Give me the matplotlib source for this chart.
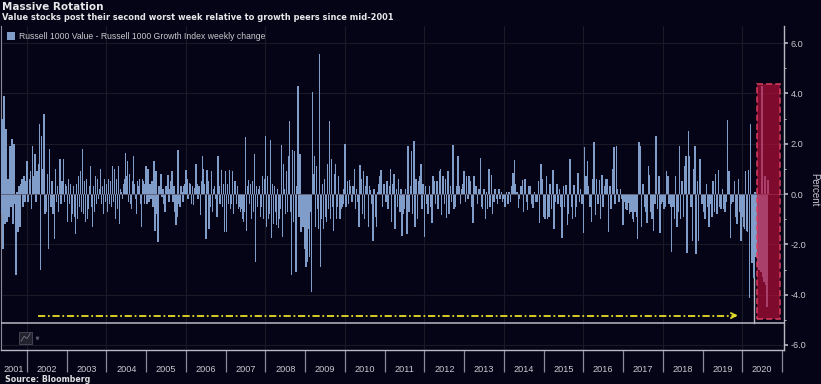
import matplotlib
matplotlib.use('Agg')
import matplotlib.pyplot as plt
from matplotlib.patches import Rectangle
import numpy as np

# weekly change
y2001 = [1.7,-0.8,3.0,-2.2,3.9,-1.2,2.6,-1.1,0.6,-0.9,1.9,-0.5,2.2,-1.2,2.0,-0.4,-3.2,0.1,-1.5,0.3,-1.3,0.4,0.6,-0.5,0.7,-0.3,0.5]
y2002 = [1.3,-0.3,0.6,0.9,-0.6,1.9,0.7,1.6,-0.3,0.9,1.2,2.8,-3.0,2.3,1.0,3.2,-0.8,-0.7,0.8,-2.2,1.8,-0.5,0.5,-0.8,-1.8,1.0,-0.3,0.3,-0.7,1.4,-0.4,0.5,1.4,-0.3,0.4]
y2003 = [0.3,-1.1,0.6,-0.4,0.4,-1.1,-0.8,0.3,-0.9,-1.6,0.4,-1.0,0.7,-0.5,0.9,-0.7,1.8,-0.8,0.5,-1.1,0.6,-1.0,-0.6,0.3,1.1,-0.5,-1.3,0.3,-0.7,0.7,-0.4,0.6,-0.2,0.2,1.0,-0.4,0.3,-0.8,0.6,-0.3]
y2004 = [0.4,-0.7,0.6,-0.4,0.5,-0.5,1.1,-0.3,1.0,-1.0,0.6,-0.6,1.1,-1.2,0.2,0.1,-0.2,0.4,0.6,1.65,0.7,1.3,-0.3,0.8,-0.4,-0.6,0.5,1.5,0.4,-0.2,-0.8,0.5,0.3,0.6,-0.4,-1.3,0.6,0.5,-0.4,0.4]
y2005 = [1.1,-0.4,1.0,-0.3,0.4,-0.2,0.5,-0.5,1.3,-1.45,0.9,-0.8,-1.9,0.3,0.2,0.8,-0.1,0.2,-0.4,-0.7,0.3,0.2,0.75,-0.3,0.2,0.5,0.9,-0.3,0.3,-0.7,-1.25,-0.9,1.75,-0.4,-0.5,0.3,0.1,-0.3,0.3,0.4]
y2006 = [0.95,0.6,-0.2,0.45,0.4,-0.4,0.3,-0.45,0.25,1.2,0.4,-0.2,0.3,-0.85,0.5,1.5,1.0,0.4,-1.8,0.95,0.5,-1.4,-0.5,0.9,-0.7,0.2,0.3,-0.2,-0.9,1.5,0.3,-0.4,0.95,-0.5,0.4,-1.5]
y2007 = [0.9,-1.5,0.4,-0.4,0.95,-0.6,-0.4,0.9,-0.8,0.5,0.5,-0.4,0.3,-0.6,-0.5,-0.7,-0.6,-1.0,-1.1,-0.7,2.25,-1.45,0.3,0.55,-0.4,0.4,-1.0,0.5,-0.7,1.6,-2.7,0.3,-0.5,0.2,0.3,-0.9,-0.5,0.7,-1.0,0.6]
y2008 = [2.3,-1.3,0.7,-1.0,-0.8,2.15,-1.75,0.4,-1.2,0.3,-0.7,-1.25,0.2,-1.35,-1.0,-0.6,1.95,-1.7,1.2,0.2,-0.8,0.9,-0.7,1.5,2.9,-0.7,-3.2,1.75,-1.1,1.7,-1.2,-3.1,0.3,4.3,-0.9,1.6,-1.5,-1.1,-1.3,-0.9]
y2009 = [-2.2,-2.9,-2.7,-1.4,-2.5,-0.7,-3.9,4.05,0.8,1.5,-1.3,1.1,-0.6,-1.4,5.55,-2.9,-1.0,0.4,-1.4,0.6,-0.9,-1.1,1.2,-0.6,2.9,-1.0,1.4,-0.5,-1.45,0.8,1.2,-1.0,-0.5,0.7,-1.0,-0.6,-0.5,-0.4,0.2]
y2010 = [2.0,-0.5,0.5,-0.4,0.55,0.3,-0.3,0.3,1.0,-0.6,0.2,-0.3,-1.3,1.15,0.6,-0.8,0.9,-1.0,0.3,0.7,-1.3,0.3,0.15,-0.4,-1.85,0.2,-0.9,-1.3,0.1,0.4,0.7,0.95,-0.5,0.4]
y2011 = [0.4,-0.3,0.5,-0.6,0.3,1.0,-1.1,0.4,0.8,-1.4,0.2,-0.5,0.6,-0.7,0.2,-1.65,-0.8,-0.6,0.2,-1.6,1.9,-0.7,0.3,1.7,-0.8,2.1,-1.3,0.6,-1.0,0.5,0.7,1.2,-0.6,0.4]
y2012 = [-1.7,0.3,-0.4,-0.8,0.3,-0.5,-1.15,0.7,0.5,-0.4,0.5,-0.6,0.9,1.0,-0.85,0.7,-0.4,0.6,-0.95,0.9,-0.8,0.3,-0.3,1.95,-0.6,-0.5,0.3,1.5,0.3,-0.4,0.2,0.4]
y2013 = [0.9,-0.3,0.7,-0.2,0.7,0.5,-0.5,-1.15,0.7,0.3,0.3,-0.4,0.2,1.45,-0.5,-0.6,0.2,-1.0,0.1,-0.6,1.0,-0.5,0.75,-0.8,-0.3,0.2,-0.2,-0.4,0.2,-0.2,0.1,-0.3]
y2014 = [-0.2,-0.5,0.1,-0.4,0.1,-0.3,0.3,0.85,1.35,0.4,0.1,-0.55,-0.2,0.3,0.55,-0.7,0.6,-0.3,-0.65,0.3,0.3,-0.4,-0.55,0.1,-0.3,-0.3,0.5,-1.15,1.2,0.6]
y2015 = [-0.9,-1.0,0.7,-1.0,-0.9,0.4,-0.6,0.95,-1.4,-0.3,0.4,-0.4,0.2,-0.5,-1.75,0.3,-0.5,0.35,-1.25,-0.8,1.4,-0.5,-1.0,0.35,-0.9,-0.5,0.85,-0.3,0.2,-0.4]
y2016 = [-1.55,1.85,0.7,1.3,0.3,-0.5,-1.1,0.6,2.05,-0.85,0.6,-0.4,0.55,-1.0,0.75,-0.5,0.3,0.6,0.6,-1.5,0.3,-0.6,1.0,1.85,-0.4,1.9,0.2,-0.3,0.2,-0.2]
y2017 = [-1.25,-0.3,-0.6,-0.65,-0.35,-0.8,-0.7,-1.0,-1.1,-0.7,-0.9,-1.8,2.05,1.9,-1.3,0.4,-0.5,-0.7,-1.15,1.1,0.75,-0.7,-1.0,-1.45,-0.4,2.3,-0.6,0.7,-1.55,-0.4]
y2018 = [-0.3,-0.6,-0.5,0.9,0.7,-0.4,-0.5,-2.3,-0.5,-1.0,0.7,-1.3,-0.7,1.9,-1.0,0.5,-0.9,1.1,1.5,-2.35,2.5,1.5,-0.5,-1.85,1.0,1.9,-2.4,0.5,-1.85,1.4,-0.4]
y2019 = [-0.4,-0.7,-1.0,0.4,-0.5,-1.3,-0.4,-0.9,0.5,-0.7,0.8,-0.8,0.95,-0.5,-0.6,0.2,-0.6,-0.7,-0.3,2.95,0.9,-1.75,-0.4,-0.3,0.5,-0.9,-1.2,0.6,-0.7,-1.85]
y2020 = [-0.9,-1.3,-1.4,0.9,-1.45,-1.5,0.95,-4.15,2.8,-1.3,-2.75,-2.2,-3.35,0.1,-2.5,-2.0,-2.9,-3.0,-2.15,-3.1,4.3,-3.3,-3.5,0.7,-3.6,-4.5,0.55]

full_years = [y2002,y2003,y2004,y2005,y2006,y2007,y2008,y2009,y2010,y2011,y2012,y2013,y2014,y2015,y2016,y2017,y2018,y2019]
years = list(range(2002, 2022))
year_labels = [str(y) for y in range(2001, 2021)]
yticks = [-6, -4, -2, 0, 2, 4, 6]

bg = '#040416'
bar_col = '#7f9dc8'
txt = '#c9c9cf'
line = '#b9b9c4'
grid = '#191928'

plt.rcParams['font.family'] = ['Liberation Sans', 'DejaVu Sans']

fig = plt.figure(figsize=(8.21, 3.84), dpi=100, facecolor=bg)
ax = fig.add_axes([1/821, 34/384, 783/821, 324/384], facecolor=bg)

# put the weeks of each year side by side
xs = [2002 - (len(y2001) - i) / 40 for i in range(len(y2001))]
vals = list(y2001)
for yr, v in zip(range(2002, 2020), full_years):
    xs += [yr + i / len(v) for i in range(len(v))]
    vals += v
xs += [2020 + i / 40 for i in range(len(y2020))]
vals += y2020

ax.bar(xs, vals, width=0.036, color=bar_col, linewidth=0, zorder=3,
       label='Russell 1000 Value - Russell 1000 Growth Index weekly change')

ax.set_xlim(2001.346, 2021.05)
ax.set_ylim(-6.2, 6.68)

for yr in range(2002, 2022, 2):
    ax.axvline(yr, color=grid, lw=0.8, zorder=1)
for t in yticks:
    if t != 0:
        ax.axhline(t, color=grid, lw=0.8, zorder=1)
ax.axhline(0, color='#5a5a70', lw=0.6, zorder=4)

# lower panel line and the marker at the sell-off
ax.axhline(-5.13, color=line, lw=1.1, zorder=5)
ax.plot([2020.29, 2020.29], [-5.13, -3.35], color=line, lw=1.0, zorder=5)

# highlight box
ax.add_patch(Rectangle((2020.38, -4.97), 0.58, 9.34, facecolor='#c00e3a', alpha=0.65,
                       edgecolor='none', zorder=6))
ax.add_patch(Rectangle((2020.38, -4.97), 0.58, 9.34, facecolor='none',
                       edgecolor='#d8405f', lw=1.1, ls=(0, (4, 2)), zorder=7))

# arrow
ax.plot([2002.28, 2019.85], [-4.83, -4.83], color='#e6dc28', lw=1.3, ls=(0, (4, 1.5, 1, 1.5)), zorder=6)
ax.annotate('', xy=(2019.96, -4.83), xytext=(2019.7, -4.83),
            arrowprops=dict(arrowstyle='->', color='#e6dc28', lw=1.3, mutation_scale=9), zorder=6)

# little chart icon in the lower panel
ax.add_patch(Rectangle((2001.8, -5.98), 0.33, 0.5, facecolor='#22222f', edgecolor='#4a4a58', lw=0.6, zorder=5))
ax.plot([2001.85, 2001.93, 2002.0, 2002.08], [-5.85, -5.65, -5.75, -5.55], color='#777785', lw=0.6, zorder=6)
ax.plot([2002.24], [-5.72], marker='v', ms=1.8, color='#555563', zorder=6)

ax.spines['top'].set_visible(False)
ax.spines['left'].set_color('#8a8a98')
ax.spines['right'].set_color(line)
ax.spines['bottom'].set_color(line)
ax.spines['right'].set_linewidth(1.0)
ax.spines['bottom'].set_linewidth(1.0)

ax.yaxis.tick_right()
ax.set_yticks(yticks)
ax.set_yticklabels(['%.1f' % t for t in yticks], color=txt, fontsize=6.6, ha='left')
ax.set_yticks([-5, -3, -1, 1, 3, 5], minor=True)
ax.tick_params(axis='y', which='major', length=3, width=1.2, color=line, pad=2, direction='out')
ax.tick_params(axis='y', which='minor', length=1.5, width=0.7, color=line, direction='out')

ax.set_xticks(years)
ax.set_xticklabels([])
ax.tick_params(axis='x', which='major', length=16, width=0.9, color='#8a8a98', direction='out')
# 2001 is a short stub, its label sits in what is left of the year
label_pos = [2001.66] + [y + 0.5 - 1 for y in years[1:]]
ax.set_xticks(label_pos, minor=True)
ax.set_xticklabels(year_labels, minor=True, color=txt, fontsize=6.6)
ax.tick_params(axis='x', which='minor', length=0, pad=11)

leg = ax.legend(loc='upper left', bbox_to_anchor=(0.0, 1.0), frameon=False, fontsize=6.2,
                handlelength=1.0, handleheight=1.0, handletextpad=0.4, borderaxespad=0.35, borderpad=0.3)
for t in leg.get_texts():
    t.set_color(txt)

fig.text(814/821, 1 - 190/384, 'Percent', rotation=270, color=txt, fontsize=7, ha='center', va='center')
fig.text(2/821, 1 - 7/384, 'Massive Rotation', color='#e8e8ea', fontsize=7.5, fontweight='bold',
         family='DejaVu Sans', va='center')
fig.text(2/821, 1 - 18/384, 'Value stocks post their second worst week relative to growth peers since mid-2001',
         color='#e8e8ea', fontsize=5.95, fontweight='bold', family='DejaVu Sans', va='center')
fig.text(5/821, 1 - 379/384, 'Source: Bloomberg', color='#e0e0e2', fontsize=5.7, fontweight='bold',
         family='DejaVu Sans', va='center')

fig.savefig('out.png', dpi=100, facecolor=bg)
